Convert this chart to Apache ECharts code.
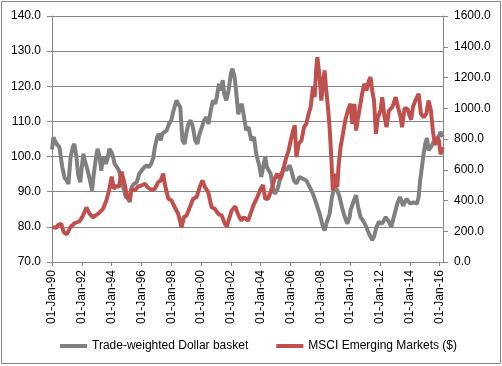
<!DOCTYPE html>
<html>
<head>
<meta charset="utf-8">
<script src="https://cdn.jsdelivr.net/npm/echarts@6/dist/echarts.min.js"></script>
<style>
html,body{margin:0;padding:0;background:#fff;}
#c{width:502px;height:366px;}
</style>
</head>
<body>
<div id="c"></div>
<script>
// Trade-weighted Dollar basket (left axis)
const dollarDates = [
'1990-01-01','1990-02-05','1990-04-20','1990-07-01','1990-09-10','1990-11-05',
'1991-01-01','1991-02-08','1991-04-01','1991-05-25','1991-07-01','1991-08-25','1991-10-01','1991-11-25',
'1992-01-01','1992-02-08','1992-03-15','1992-05-25','1992-07-20','1992-09-10','1992-10-20','1992-12-15',
'1993-01-20','1993-03-15','1993-04-20','1993-05-25','1993-07-01','1993-08-10','1993-10-01','1993-11-05',
'1994-01-01','1994-02-08','1994-03-15','1994-05-10','1994-07-01','1994-08-10','1994-09-15','1994-11-05','1994-12-15',
'1995-02-08','1995-03-20','1995-05-10','1995-07-01','1995-09-10','1995-11-05',
'1996-01-01','1996-03-15','1996-05-10','1996-07-01','1996-08-25','1996-10-20','1996-11-25',
'1997-01-20','1997-02-25','1997-04-20','1997-05-25','1997-07-20','1997-09-10','1997-11-05',
'1998-01-01','1998-02-25','1998-05-10','1998-08-10','1998-10-01','1998-11-25',
'1999-01-01','1999-02-25','1999-04-20','1999-06-15','1999-08-10','1999-10-01','1999-11-25',
'2000-01-20','2000-03-15','2000-05-10','2000-07-01','2000-08-25','2000-10-20','2000-12-15',
'2001-01-20','2001-03-15','2001-04-20','2001-06-15','2001-07-20','2001-09-10','2001-11-05',
'2002-01-01','2002-02-08','2002-04-01','2002-05-10','2002-07-01','2002-08-10','2002-09-25','2002-11-05',
'2003-01-10','2003-03-10','2003-05-15','2003-07-20','2003-09-12','2003-12-05',
'2004-01-15','2004-03-01','2004-04-20','2004-06-01','2004-07-12','2004-09-01','2004-10-25','2004-12-05',
'2005-02-10','2005-04-10','2005-05-20','2005-07-22','2005-09-20','2005-12-10',
'2006-01-20','2006-03-25','2006-05-22','2006-08-10','2006-11-01',
'2007-01-22','2007-04-15','2007-07-05','2007-09-25','2007-12-15',
'2008-03-05','2008-04-15','2008-06-20','2008-08-15','2008-10-12','2008-12-15',
'2009-02-20','2009-04-15','2009-06-15','2009-08-20','2009-10-25','2009-12-20',
'2010-01-10','2010-04-01','2010-05-25','2010-07-15','2010-09-12','2010-12-01',
'2011-01-30','2011-04-05','2011-06-25','2011-08-08','2011-10-08','2011-12-05',
'2012-02-25','2012-05-20','2012-08-08','2012-10-05','2012-12-05',
'2013-02-28','2013-05-05','2013-07-22','2013-10-12',
'2014-01-10','2014-04-01','2014-06-25','2014-08-05','2014-09-12','2014-10-25','2014-12-05',
'2015-01-15','2015-02-25','2015-04-05','2015-06-01','2015-08-08','2015-10-12','2015-12-05',
'2016-01-20','2016-02-28','2016-03-22'
];
const dollarValues = [
102,105.5,103.6,102.7,97,94,
93.2,92.2,99.8,102.7,103.6,99.8,95,92.7,
97,100.8,98.9,96,93.2,90.3,95,99.8,
102.2,99.8,96,98.9,99.8,97.9,99.8,102.2,
101.2,99.8,97.9,97,96,94,94,90.3,88.4,
88.5,87,91.3,92.2,92.7,95,
96,97,97.5,97,97.9,99.8,102.7,
105.5,106.5,104.6,106.5,107,107.4,109.3,
110.3,113.1,116,114,104.6,103.6,
106.5,109.3,110.3,108.4,104.6,103.6,106.5,
108.4,110.3,111.2,109.3,113.1,116,115,
116.9,120.7,118.8,121.7,117.9,116,118.8,
123.6,125,122.6,118.5,112,114,115,112.2,
107.5,108.4,104.6,105.6,100.8,97,
94.2,97,99.9,97,97,95.1,91.3,89.4,
90.4,93.2,94.2,97,96.1,97.5,
96.1,93.2,92.3,94.2,93.7,
93.2,91.3,89.4,86.6,83.7,
80,79,81.8,83.7,88.5,91.3,
90.4,88.5,85.6,82.8,80.9,82.8,
84.7,87.5,89,85.6,82.8,81.4,
80,78.1,76.2,77.2,80,81.4,
80.9,82.8,81.4,80,82.8,
86.6,88.5,86,88,
86.6,87,86.6,88.5,93.2,97,100.8,
103.7,105.3,101.8,102.7,104.2,103.7,105.6,
107,106.5,105.6
];
// MSCI Emerging Markets ($) (right axis)
const msciDates = [
'1990-01-01','1990-04-20','1990-05-25','1990-08-15','1990-10-15',
'1991-01-01','1991-03-25','1991-07-08','1991-11-10',
'1992-02-01','1992-04-22','1992-07-12','1992-10-01',
'1993-02-01','1993-06-05','1993-08-25','1993-10-30',
'1994-01-01','1994-02-25','1994-05-01','1994-07-01','1994-08-30','1994-11-15',
'1995-01-15','1995-03-05','1995-05-01','1995-07-22','1995-10-12',
'1996-01-01','1996-03-25','1996-06-15','1996-09-05','1996-11-25',
'1997-02-15','1997-04-15','1997-06-18','1997-07-25','1997-10-20',
'1998-01-08','1998-03-28','1998-06-20','1998-09-10','1998-11-05',
'1999-01-10','1999-04-01','1999-06-20','1999-09-12','1999-12-01',
'2000-02-01','2000-04-05','2000-06-25','2000-09-15','2000-12-05',
'2001-02-25','2001-05-20','2001-08-08','2001-09-25','2001-10-25',
'2002-01-20','2002-04-20','2002-06-20','2002-09-12','2002-11-15',
'2003-02-25','2003-04-25','2003-07-20','2003-10-08',
'2004-01-01','2004-02-25','2004-04-22','2004-06-28','2004-09-15','2004-12-05',
'2005-02-10','2005-04-10','2005-06-28','2005-09-20','2005-11-15',
'2006-01-10','2006-03-05','2006-04-15','2006-05-25','2006-07-20','2006-09-25','2006-11-28',
'2007-01-22','2007-03-20','2007-05-08','2007-07-05','2007-08-15','2007-09-25','2007-10-20','2007-12-15',
'2008-01-25','2008-03-05','2008-04-15','2008-05-25','2008-07-05','2008-08-15','2008-09-25','2008-11-02',
'2009-01-01','2009-02-20','2009-03-20','2009-05-10','2009-07-08','2009-09-01','2009-11-05',
'2010-01-10','2010-02-20','2010-04-15','2010-05-25','2010-07-30','2010-10-20','2010-12-15',
'2011-02-05','2011-04-05','2011-05-15','2011-06-25','2011-08-08','2011-09-25','2011-11-10',
'2012-01-15','2012-02-25','2012-04-22','2012-06-10','2012-08-08','2012-10-30',
'2013-01-20','2013-03-18','2013-05-22','2013-06-25','2013-08-25','2013-11-05',
'2014-02-01','2014-03-18','2014-05-15','2014-08-05','2014-10-01','2014-12-05',
'2015-02-10','2015-04-05','2015-06-01','2015-07-20','2015-09-08','2015-10-25','2015-12-15',
'2016-01-25','2016-03-15'
];
const msciValues = [
226,223,240,248,194,
179,226,252,265,
302,355,313,291,
313,346,400,465,
555,476,497,487,588,509,
421,400,476,465,491,
497,509,482,469,476,
519,530,575,509,411,
400,356,313,225,291,
302,356,411,421,487,
530,487,454,356,346,
313,302,248,230,259,
335,362,313,270,291,
268,313,378,421,
476,500,411,411,465,541,
574,541,595,682,725,
795,855,888,682,769,790,877,
899,964,1007,1137,1072,1267,1332,1202,
1050,1159,1246,1115,1007,877,682,465,
574,487,617,747,834,920,985,
1029,899,1029,855,964,1094,1159,
1115,1180,1202,1115,1050,834,942,
985,1072,942,877,985,1007,
1072,1007,942,877,1000,995,
925,1007,1050,1094,964,942,
964,1050,985,855,760,812,790,
700,747
];
const tickYears = [1990,1992,1994,1996,1998,2000,2002,2004,2006,2008,2010,2012,2014,2016];
const seriesNames = ['Trade-weighted Dollar basket','MSCI Emerging Markets ($)'];

function ts(s){const p=s.split('-');return Date.UTC(+p[0],+p[1]-1,+p[2]);}
const tickTimes = tickYears.map(y=>Date.UTC(y,0,1));
const gridColor = '#868686';
const textStyle = {color:'#000',fontFamily:'"Liberation Sans", Arial, sans-serif',fontSize:12};

const chart = echarts.init(document.getElementById('c'),null,{renderer:'canvas'});
chart.setOption({
  animation:false,
  backgroundColor:'#fff',
  graphic:[{type:'rect',shape:{x:1.5,y:1.5,width:499,height:362},style:{fill:'none',stroke:gridColor,lineWidth:1},silent:true,z:-1}],
  grid:{left:52,right:59,top:16,bottom:104,containLabel:false},
  legend:{
    data:seriesNames, left:55, top:335, icon:'rect', itemWidth:27, itemHeight:4, itemGap:28,
    textStyle:Object.assign({},textStyle)
  },
  xAxis:{
    type:'value', min:Date.UTC(1990,0,1), max:Date.UTC(2016,2,24),
    splitLine:{show:false},
    axisLine:{show:true,lineStyle:{color:gridColor,width:1}},
    axisTick:{show:true,length:4,lineStyle:{color:gridColor},customValues:tickTimes},
    axisLabel:Object.assign({rotate:90,margin:8,customValues:tickTimes,hideOverlap:false,
      formatter:function(v){const d=new Date(v);return '01-Jan-'+String(d.getUTCFullYear()%100).padStart(2,'0');}},textStyle)
  },
  yAxis:[{
    type:'value', min:70, max:140, interval:10, position:'left',
    axisLine:{show:true,lineStyle:{color:gridColor}},
    axisTick:{show:true,length:5,lineStyle:{color:gridColor}},
    splitLine:{show:true,lineStyle:{color:gridColor,width:1}},
    axisLabel:Object.assign({margin:11,formatter:v=>v.toFixed(1)},textStyle)
  },{
    type:'value', min:0, max:1600, interval:200, position:'right',
    axisLine:{show:true,lineStyle:{color:gridColor}},
    axisTick:{show:true,length:5,lineStyle:{color:gridColor}},
    splitLine:{show:false},
    axisLabel:Object.assign({margin:11,formatter:v=>v.toFixed(1)},textStyle)
  }],
  series:[{
    name:seriesNames[0], type:'line', yAxisIndex:0, showSymbol:false, symbol:'none',
    lineStyle:{color:'#808080',width:4}, itemStyle:{color:'#808080'},
    data:dollarDates.map((d,i)=>[ts(d),dollarValues[i]]), z:2
  },{
    name:seriesNames[1], type:'line', yAxisIndex:1, showSymbol:false, symbol:'none',
    lineStyle:{color:'#C0504D',width:4}, itemStyle:{color:'#C0504D'},
    data:msciDates.map((d,i)=>[ts(d),msciValues[i]]), z:3
  }]
});
</script>
</body>
</html>
